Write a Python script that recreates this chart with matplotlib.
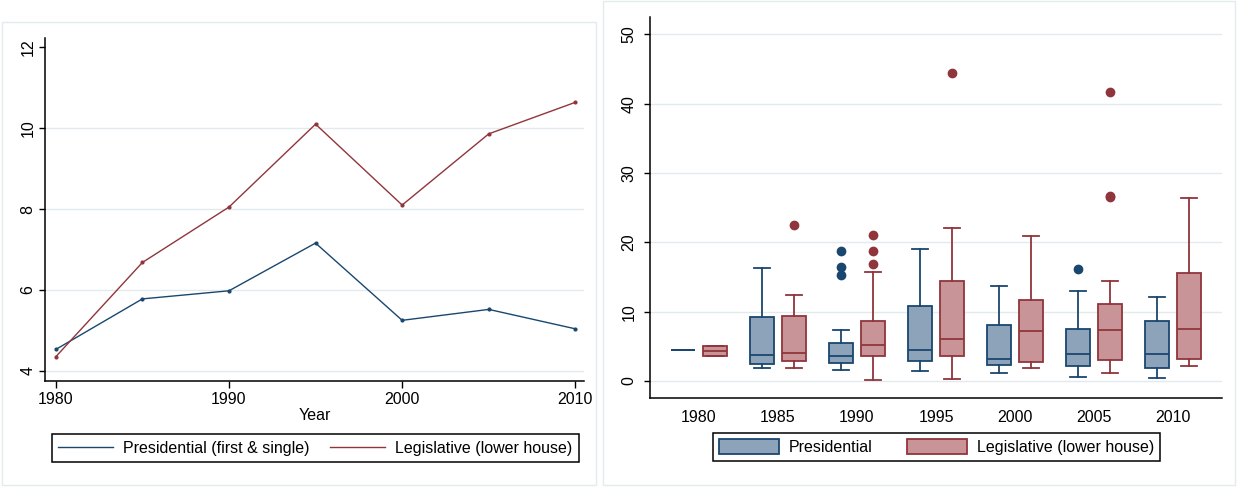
import numpy as np
import matplotlib.pyplot as plt
from matplotlib.patches import Rectangle, Patch
from matplotlib.lines import Line2D

plt.rcParams['font.family'] = ['Liberation Sans', 'DejaVu Sans']
plt.rcParams['font.size'] = 11.5

NAVY = "#1a476f"
MAROON = "#90353b"
NAVY_FILL = "#8ca3ba"
MAROON_FILL = "#c89498"
GRID = "#e2eaed"
FRAME = "#e4ebee"

# left panel: mean effective number of parties
years = [1980, 1985, 1990, 1995, 2000, 2005, 2010]
pres_mean = [4.53, 5.78, 5.98, 7.16, 5.25, 5.52, 5.04]
leg_mean = [4.35, 6.68, 8.05, 10.10, 8.10, 9.86, 10.64]

# right panel: box plot summaries per year
box_years = ["1980", "1985", "1990", "1995", "2000", "2005", "2010"]
pres_lo = [4.52, 1.92, 1.63, 1.49, 1.15, 0.63, 0.43]
pres_q1 = [4.52, 2.50, 2.55, 2.93, 2.31, 2.16, 1.88]
pres_med = [4.52, 3.80, 3.65, 4.42, 3.17, 3.89, 3.89]
pres_q3 = [4.52, 9.28, 5.53, 10.87, 8.13, 7.55, 8.70]
pres_hi = [4.52, 16.35, 7.30, 19.09, 13.75, 12.98, 12.16]
pres_out = [[], [], [18.8, 16.44, 15.24], [], [], [16.1], []]

leg_lo = [3.56, 1.88, 0.19, 0.34, 1.92, 1.15, 2.16]
leg_q1 = [3.56, 2.88, 3.65, 3.56, 2.79, 2.98, 3.22]
leg_med = [4.33, 4.00, 5.24, 6.01, 7.16, 7.31, 7.55]
leg_q3 = [5.10, 9.42, 8.70, 14.47, 11.73, 11.10, 15.63]
leg_hi = [5.10, 12.40, 15.67, 22.07, 20.96, 14.38, 26.44]
leg_out = [[], [22.45], [21.06, 18.8, 16.88], [44.42], [], [41.73, 26.73, 26.5], []]

W, H = 1239, 487
fig = plt.figure(figsize=(W / 100, H / 100), dpi=100)


def px(x0, y0, x1, y1):
    return [x0 / W, 1 - y1 / H, (x1 - x0) / W, (y1 - y0) / H]


# panel frames
fig.patches.append(Rectangle((2 / W, 1 - 485 / H), 594 / W, 463 / H, transform=fig.transFigure,
                             fill=False, edgecolor=FRAME, lw=1))
fig.patches.append(Rectangle((603 / W, 1 - 485 / H), 632 / W, 484 / H, transform=fig.transFigure,
                             fill=False, edgecolor=FRAME, lw=1))


def style(ax):
    for s in ["top", "right"]:
        ax.spines[s].set_visible(False)
    for s in ["left", "bottom"]:
        ax.spines[s].set_linewidth(1.1)
    ax.tick_params(axis="y", length=4, width=1, labelrotation=90, pad=3)
    for lab in ax.get_yticklabels():
        lab.set_va("center")


# ---- left: line chart
ax1 = fig.add_axes(px(45.4, 38, 584, 381))
for g in [4, 6, 8, 10]:
    ax1.axhline(g, color=GRID, lw=1, zorder=0)
ax1.plot(years, pres_mean, color=NAVY, lw=1, marker="o", ms=2)
ax1.plot(years, leg_mean, color=MAROON, lw=1, marker="o", ms=2)
ax1.set_xlim(1979.4, 2010.5)
ax1.set_ylim(3.75, 12.23)
ax1.set_xticks([1980, 1990, 2000, 2010])
ax1.set_yticks([4, 6, 8, 10, 12])
ax1.set_xlabel("Year", labelpad=1)
ax1.tick_params(axis="x", length=5, width=1, pad=3)
style(ax1)

h1 = [Line2D([], [], color=NAVY, lw=1), Line2D([], [], color=MAROON, lw=1)]
fig.legend(h1, ["Presidential (first & single)", "Legislative (lower house)"], ncol=2,
           loc="center", bbox_to_anchor=(315.2 / W, 1 - 448 / H),
           fancybox=False, edgecolor="black", framealpha=1, handlelength=3.45,
           borderpad=0.4, handletextpad=0.6, columnspacing=1.3).get_frame().set_linewidth(1.1)

# ---- right: box plots
ax2 = fig.add_axes(px(650.3, 17.3, 1221.7, 397.7))
for g in [0, 10, 20, 30, 40, 50]:
    ax2.axhline(g, color=GRID, lw=1, zorder=0)


def stats(lo, q1, med, q3, hi, out):
    return [dict(whislo=a, q1=b, med=c, q3=d, whishi=e, fliers=f)
            for a, b, c, d, e, f in zip(lo, q1, med, q3, hi, out)]


pos = np.arange(len(box_years))
for st, off, ec, fc in [(stats(pres_lo, pres_q1, pres_med, pres_q3, pres_hi, pres_out), -0.2, NAVY, NAVY_FILL),
                        (stats(leg_lo, leg_q1, leg_med, leg_q3, leg_hi, leg_out), 0.2, MAROON, MAROON_FILL)]:
    ax2.bxp(st, positions=pos + off, widths=0.3, capwidths=0.2, patch_artist=True, manage_ticks=False,
            boxprops=dict(facecolor=fc, edgecolor=ec, lw=1.3),
            medianprops=dict(color=ec, lw=1.3),
            whiskerprops=dict(color=ec, lw=1.3),
            capprops=dict(color=ec, lw=1.3),
            flierprops=dict(marker="o", markerfacecolor=ec, markeredgecolor=ec, markersize=6))
ax2.set_xlim(-0.614, 6.614)
ax2.set_ylim(-2.4, 52.45)
ax2.set_xticks(pos)
ax2.set_xticklabels(box_years)
ax2.tick_params(axis="x", length=0, pad=9)
ax2.set_yticks([0, 10, 20, 30, 40, 50])
style(ax2)
ax2.tick_params(axis="y", pad=6)

h2 = [Patch(facecolor=NAVY_FILL, edgecolor=NAVY, lw=1.3), Patch(facecolor=MAROON_FILL, edgecolor=MAROON, lw=1.3)]
fig.legend(h2, ["Presidential", "Legislative (lower house)"], ncol=2,
           loc="center", bbox_to_anchor=(936.5 / W, 1 - 447 / H),
           fancybox=False, edgecolor="black", framealpha=1, handlelength=3.75, handleheight=1.1,
           borderpad=0.4, handletextpad=0.6, columnspacing=2.2).get_frame().set_linewidth(1.1)

fig.savefig("out.png", dpi=100)
